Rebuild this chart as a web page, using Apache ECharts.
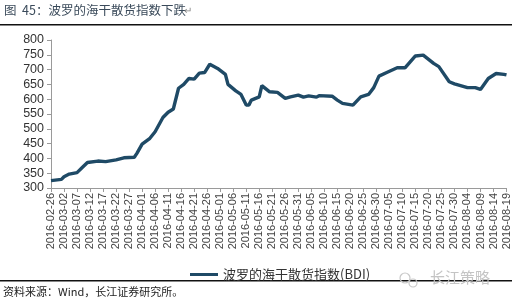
<!DOCTYPE html>
<html>
<head>
<meta charset="utf-8">
<script src="https://cdn.jsdelivr.net/npm/echarts@6/dist/echarts.min.js"></script>
<style>
html,body{margin:0;padding:0;background:#fff;}
#c{width:512px;height:305px;}
</style>
</head>
<body>
<div id="c"></div>
<script>
// Category labels: every calendar day from 2016-02-26 to 2016-08-19
const startDate = '2016-02-26';
const dayCount = 176;
// BDI readings (sparse)
const bdiDates = ['2016-02-26','2016-03-01','2016-03-02','2016-03-04','2016-03-07','2016-03-09','2016-03-11','2016-03-15','2016-03-18','2016-03-22','2016-03-25','2016-03-29','2016-03-30','2016-04-01','2016-04-04','2016-04-06','2016-04-09','2016-04-11','2016-04-13','2016-04-15','2016-04-17','2016-04-19','2016-04-21','2016-04-23','2016-04-25','2016-04-27','2016-04-30','2016-05-03','2016-05-04','2016-05-07','2016-05-09','2016-05-11','2016-05-12','2016-05-13','2016-05-16','2016-05-17','2016-05-20','2016-05-23','2016-05-26','2016-05-28','2016-05-31','2016-06-02','2016-06-04','2016-06-07','2016-06-08','2016-06-13','2016-06-15','2016-06-17','2016-06-21','2016-06-24','2016-06-27','2016-06-29','2016-07-01','2016-07-04','2016-07-08','2016-07-11','2016-07-15','2016-07-18','2016-07-22','2016-07-24','2016-07-28','2016-07-30','2016-08-04','2016-08-07','2016-08-09','2016-08-12','2016-08-15','2016-08-18','2016-08-19'];
const bdiValues = [325,329,338,347,352,369,386,391,389,395,402,404,417,448,468,490,538,556,567,637,650,670,668,688,690,718,704,684,650,628,616,580,580,597,608,646,625,623,603,608,614,607,611,607,612,610,597,586,580,608,616,639,678,690,706,706,746,749,721,710,659,652,639,639,633,670,687,684,682];
const yMin = 300, yMax = 800, yStep = 50;
const titleText = '图  45：波罗的海干散货指数下跌';
const seriesName = '波罗的海干散货指数(BDI)';
const sourceText = '资料来源：Wind，长江证券研究所。';
const watermarkText = '长江策略';

function fmt(d){
  const m = String(d.getUTCMonth()+1).padStart(2,'0');
  const day = String(d.getUTCDate()).padStart(2,'0');
  return d.getUTCFullYear()+'-'+m+'-'+day;
}
const categories = [];
const base = new Date(startDate+'T00:00:00Z');
for(let i=0;i<dayCount;i++){
  categories.push(fmt(new Date(base.getTime()+i*86400000)));
}
const lookup = {};
bdiDates.forEach((d,i)=>{lookup[d]=bdiValues[i];});
const seriesData = categories.map(c => (c in lookup) ? lookup[c] : null);

const chart = echarts.init(document.getElementById('c'), null, {renderer:'canvas'});
chart.setOption({
  animation:false,
  backgroundColor:'#ffffff',
  grid:{left:51,right:5,top:40,bottom:117,containLabel:false},
  xAxis:{
    type:'category',
    data:categories,
    boundaryGap:false,
    axisLine:{lineStyle:{color:'#9a9a9a',width:1}},
    axisTick:{show:true,interval:4,length:4,lineStyle:{color:'#9a9a9a'}},
    axisLabel:{interval:4,rotate:90,fontSize:11,color:'#444',fontFamily:'Liberation Sans, Arial, sans-serif',margin:5},
    splitLine:{show:false}
  },
  yAxis:{
    type:'value',
    min:yMin,max:yMax,interval:yStep,
    axisLine:{show:true,lineStyle:{color:'#9a9a9a',width:1}},
    axisTick:{show:true,length:4,lineStyle:{color:'#9a9a9a'}},
    axisLabel:{fontSize:12.5,color:'#333',fontFamily:'Liberation Sans, Arial, sans-serif',margin:7},
    splitLine:{show:false}
  },
  legend:{
    top:263,left:185,
    data:[{name:seriesName,icon:'rect'}],
    itemWidth:28,itemHeight:3,itemGap:4,
    textStyle:{fontSize:13,color:'#333',fontFamily:'Noto Sans CJK SC, sans-serif'}
  },
  series:[{
    name:seriesName,
    type:'line',
    data:seriesData,
    connectNulls:true,
    showSymbol:false,
    symbol:'none',
    smooth:false,
    lineStyle:{color:'#1f4a66',width:3.4},
    itemStyle:{color:'#1f4a66'}
  }],
  graphic:[
    {type:'text',left:4,top:4,style:{text:titleText,fontSize:12.5,fill:'#3a4a5a',fontFamily:'Noto Sans CJK SC, sans-serif'}},
    {type:'text',left:184,top:6,style:{text:'↵',fontSize:10,fill:'#888'}},
    {type:'rect',shape:{x:0,y:24,width:512,height:1.5},style:{fill:'#111'}},
    {type:'rect',shape:{x:0,y:280,width:512,height:1.5},style:{fill:'#111'}},
    {type:'text',left:3,top:286,style:{text:sourceText,fontSize:11,fill:'#222',fontFamily:'Noto Sans CJK SC, sans-serif'}},
    {type:'circle',shape:{cx:405,cy:278,r:5},style:{fill:'none',stroke:'#c8c8c8',lineWidth:1.2}},
    {type:'circle',shape:{cx:413,cy:283,r:4},style:{fill:'none',stroke:'#c8c8c8',lineWidth:1.2}},
    {type:'text',left:430,top:270,style:{text:watermarkText,fontSize:15,fill:'#c4c4c4',fontFamily:'Noto Sans CJK SC, sans-serif'}}
  ]
});
</script>
</body>
</html>
